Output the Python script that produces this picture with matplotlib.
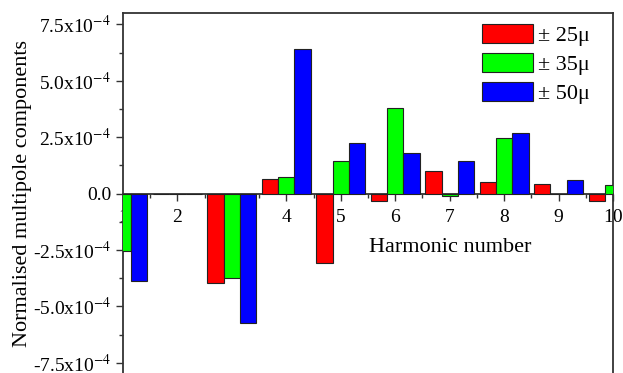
import numpy as np
import matplotlib
matplotlib.use("Agg")
import matplotlib.pyplot as plt
from matplotlib.ticker import MultipleLocator

plt.rcParams['font.family'] = ['Liberation Serif', 'DejaVu Serif']
plt.rcParams['mathtext.fontset'] = 'stix'

harmonics = [1, 2, 3, 4, 5, 6, 7, 8, 9, 10]
# normalised multipole components (x1e-4)
tol_25 = [0.0, 0.0, -3.95, 0.63, -3.09, -0.33, 1.01, 0.50, 0.42, -0.33]
tol_35 = [-2.55, 0.0, -3.73, 0.74, 1.45, 3.80, -0.10, 2.47, 0.0, 0.36]
tol_50 = [-3.88, 0.0, -5.75, 6.39, 2.25, 1.81, 1.44, 2.70, 0.60, 0.0]
labels = ["\u00b1 25\u03bc", "\u00b1 35\u03bc", "\u00b1 50\u03bc"]
ytick_vals = [-7.5e-4, -5.0e-4, -2.5e-4, 0.0, 2.5e-4, 5.0e-4, 7.5e-4]
ytick_labels = [r"-7.5x10$^{-4}$", r"-5.0x10$^{-4}$", r"-2.5x10$^{-4}$", "0.0",
                r"2.5x10$^{-4}$", r"5.0x10$^{-4}$", r"7.5x10$^{-4}$"]

x = np.array(harmonics)
w = 0.3
fig = plt.figure(figsize=(6.23, 3.73), dpi=100)
ax = fig.add_axes([0.1974, -0.003, 0.7866, 0.968])

ax.bar(x - w, np.array(tol_25) * 1e-4, w, color='#ff0000', edgecolor='#222222', lw=0.8, label=labels[0], zorder=3)
ax.bar(x, np.array(tol_35) * 1e-4, w, color='#00ff00', edgecolor='#222222', lw=0.8, label=labels[1], zorder=3)
ax.bar(x + w, np.array(tol_50) * 1e-4, w, color='#0000ff', edgecolor='#222222', lw=0.8, label=labels[2], zorder=3)

ax.set_xlim(1, 10)
ax.set_ylim(-8e-4, 8e-4)
ax.spines['bottom'].set_position(('data', 0))
for s in ax.spines.values():
    s.set_color('#333333')
    s.set_linewidth(1.3)

ax.set_xticks(harmonics)
ax.xaxis.set_minor_locator(MultipleLocator(0.5))
ax.set_yticks(ytick_vals)
ax.set_yticklabels(ytick_labels)
ax.yaxis.set_minor_locator(MultipleLocator(1.25e-4))
ax.tick_params(which='major', length=5, width=1, color='#333333', labelsize=14)
ax.tick_params(which='minor', length=3, width=1, color='#333333')
ax.tick_params(axis='x', pad=6)

ax.set_xlabel('Harmonic number', fontsize=16)
ax.xaxis.set_label_coords(0.667, 0.377)
ax.set_ylabel('Normalised multipole components', fontsize=16, labelpad=0.5)

ax.legend(loc='upper right', bbox_to_anchor=(0.971, 0.993), frameon=False,
          fontsize=16, handlelength=2.3, handleheight=0.92, labelspacing=0.3,
          handletextpad=0.23, borderaxespad=0)

fig.savefig('out.png', dpi=100)
